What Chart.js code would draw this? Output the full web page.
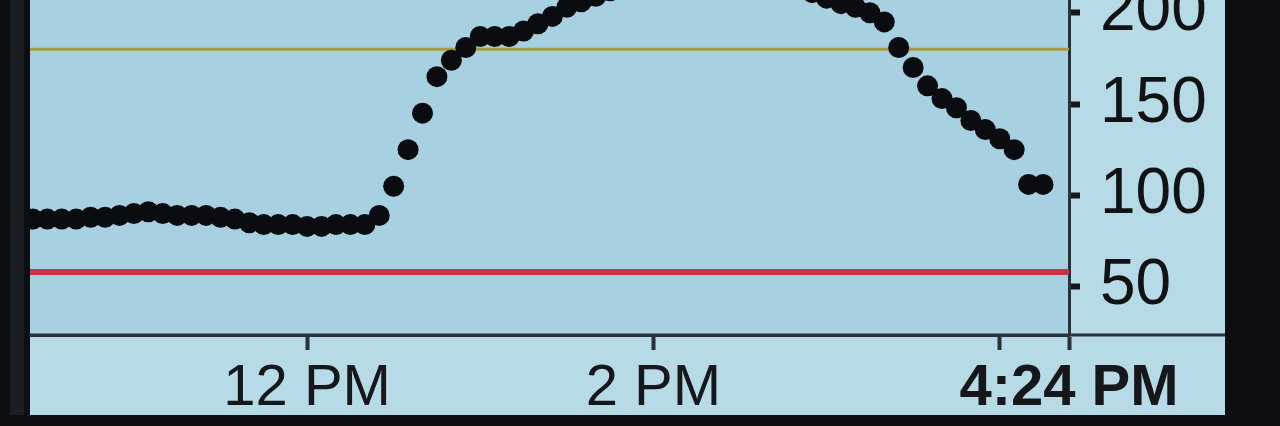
<!DOCTYPE html>
<html>
<head>
<meta charset="utf-8">
<title>CGM</title>
<script src="https://cdn.jsdelivr.net/npm/chart.js@4.4.1/dist/chart.umd.min.js"></script>
<style>
  html, body { margin: 0; padding: 0; background: #0c0e11; }
  #wrap { width: 1280px; height: 426px; position: relative; }
</style>
</head>
<body>
<div id="wrap"><canvas id="cgmChart"></canvas></div>
<script>
/* =======================================================
   CGM RECEIVER SCREEN - 6 HOUR TREND
   ======================================================= */

// ===== DATA =====
const readingTimes = [
  "10:25", "10:30", "10:35", "10:40", "10:45", "10:50", "10:55", "11:00",
  "11:05", "11:10", "11:15", "11:20", "11:25", "11:30", "11:35", "11:40",
  "11:45", "11:50", "11:55", "12:00", "12:05", "12:10", "12:15", "12:20",
  "12:25", "12:30", "12:35", "12:40", "12:45", "12:50", "12:55", "13:00",
  "13:05", "13:10", "13:15", "13:20", "13:25", "13:30", "13:35", "13:40",
  "13:45", "13:50", "13:55", "14:00", "14:05", "14:10", "14:15", "14:20",
  "14:25", "14:30", "14:35", "14:40", "14:45", "14:50", "14:55", "15:00",
  "15:05", "15:10", "15:15", "15:20", "15:25", "15:30", "15:35", "15:40",
  "15:45", "15:50", "15:55", "16:00", "16:05", "16:10", "16:15"
];
const glucose = [
  87, 87, 87, 87, 88, 88, 89, 90,
  91, 90, 89, 89, 89, 88, 87, 85,
  84, 84, 84, 83, 83, 84, 84, 84,
  89, 105, 125, 145, 165, 174, 181, 187,
  187, 187, 190, 194, 198, 203, 206, 209,
  212, 215, 218, 221, 223, 225, 226, 226,
  225, 224, 222, 220, 217, 214, 211, 208,
  205, 203, 200, 195, 181, 170, 160, 153,
  148, 141, 136, 131, 125, 106, 106
];

const windowStart = "10:24";
const windowEnd = "16:24";
const xTickTimes = ["12:00", "14:00", "16:00", "16:24"];
const xTickLabels = ["12 PM", "2 PM", "", "4:24 PM"];

const yTickValues = [50, 75, 100, 125, 150, 175, 200];
const yTickLabels = ["50", "", "100", "", "150", "", "200"];

const highAlert = 180;
const lowAlert = 58;

// ===== HELPERS =====
const toMinutes = (t) => {
  const [h, m] = t.split(":").map(Number);
  return h * 60 + m;
};

const points = readingTimes.map((t, i) => ({ x: toMinutes(t), y: glucose[i] }));
const xMin = toMinutes(windowStart);
const xMax = toMinutes(windowEnd);

// ===== LCD BACKGROUND =====
const lcdPanel = {
  id: "lcdPanel",
  beforeDraw(chart) {
    const { ctx, chartArea, width, height } = chart;
    ctx.save();
    ctx.fillStyle = "#0c0e11";
    ctx.fillRect(0, 0, width, height);
    ctx.fillStyle = "#1a1d21";
    ctx.fillRect(10, 0, 14, 415);
    ctx.fillStyle = "#b6dae6";
    ctx.fillRect(chartArea.left, 0, 1225 - chartArea.left, 415);
    ctx.fillStyle = "#a7d0e0";
    ctx.fillRect(chartArea.left, chartArea.top, chartArea.right - chartArea.left, chartArea.bottom - chartArea.top);
    ctx.restore();
  },
  afterDraw(chart) {
    const { ctx, chartArea } = chart;
    ctx.save();
    ctx.strokeStyle = "#2b3138";
    ctx.lineWidth = 3;
    ctx.beginPath();
    ctx.moveTo(chartArea.left, chartArea.bottom);
    ctx.lineTo(1225, chartArea.bottom);
    ctx.stroke();
    ctx.restore();
  }
};

// ===== CHART =====
new Chart(document.getElementById("cgmChart"), {
  type: "scatter",
  data: {
    datasets: [
      {
        label: "Glucose",
        data: points,
        showLine: false,
        pointRadius: 10.5,
        pointBackgroundColor: "#0b0c10",
        pointBorderWidth: 0,
        order: 0
      },
      {
        label: "High",
        type: "line",
        data: [{ x: xMin, y: highAlert }, { x: xMax, y: highAlert }],
        borderColor: "#a89a3c",
        borderWidth: 3,
        pointRadius: 0,
        order: 1
      },
      {
        label: "Low",
        type: "line",
        data: [{ x: xMin, y: lowAlert }, { x: xMax, y: lowAlert }],
        borderColor: "#c8324a",
        borderWidth: 6,
        pointRadius: 0,
        order: 1
      }
    ]
  },
  options: {
    responsive: true,
    maintainAspectRatio: false,
    animation: false,
    layout: { autoPadding: false, padding: { left: 30, right: 55, top: 0, bottom: 11 } },
    plugins: { legend: { display: false }, tooltip: { enabled: false } },
    scales: {
      x: {
        type: "linear",
        min: xMin,
        max: xMax,
        afterBuildTicks: (scale) => {
          scale.ticks = xTickTimes.map(t => ({ value: toMinutes(t) }));
        },
        afterFit: (scale) => {
          scale.height = 80;
          scale.paddingLeft = 0;
          scale.paddingRight = 0;
        },
        grid: {
          drawOnChartArea: false,
          drawTicks: true,
          tickLength: 15,
          tickWidth: 4,
          tickColor: "#2b3138"
        },
        border: { display: true, color: "#2b3138", width: 3 },
        ticks: {
          autoSkip: false,
          maxRotation: 0,
          padding: 4,
          color: "#15171a",
          font: (ctx) => ({
            family: "'Liberation Sans', Arial, sans-serif",
            size: 58,
            weight: ctx.index === 3 ? "bold" : "normal"
          }),
          callback: (value, index) => xTickLabels[index]
        }
      },
      y: {
        position: "right",
        min: 23.5,
        max: 207,
        afterBuildTicks: (scale) => {
          scale.ticks = yTickValues.map(v => ({ value: v }));
        },
        afterFit: (scale) => {
          scale.width = 156;
          scale.paddingTop = 0;
          scale.paddingBottom = 0;
        },
        grid: {
          drawOnChartArea: false,
          drawTicks: true,
          tickLength: 11,
          tickWidth: (ctx) => (ctx.index % 2 === 0 ? 6 : 3),
          tickColor: "#15171a"
        },
        border: { display: true, color: "#2b3138", width: 3 },
        ticks: {
          padding: 20,
          color: "#111214",
          font: { family: "'Liberation Sans', Arial, sans-serif", size: 64 },
          callback: (value, index) => yTickLabels[index]
        }
      }
    }
  },
  plugins: [lcdPanel]
});
</script>
</body>
</html>
